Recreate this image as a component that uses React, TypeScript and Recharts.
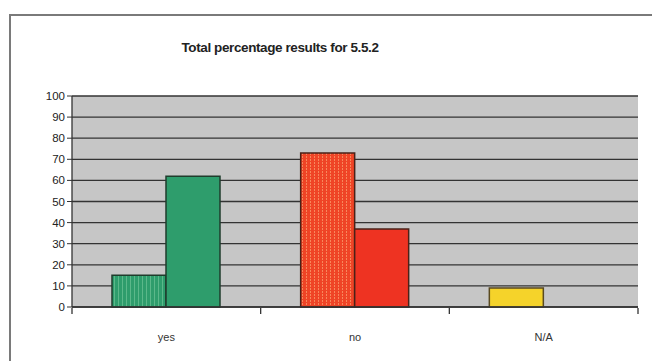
import { BarChart, Bar, XAxis, YAxis, CartesianGrid, Cell } from "recharts";

// answers and their percentages, two bars per answer
const categories = ["yes", "no", "N/A"];
const firstSeries = [15, 73, 9];
const secondSeries: (number | null)[] = [62, 37, null];
const yTicks = [0, 10, 20, 30, 40, 50, 60, 70, 80, 90, 100];

const solidFill = ["#2e9d6c", "#ee3322", "#f5d32a"];
const patternFill = ["url(#greenDots)", "url(#redDots)", "#f5d32a"];
const edgeStroke = ["#1f3d2c", "#4a2218", "#5a4a20"];

const data = categories.map((name, i) => ({
  name,
  first: firstSeries[i],
  second: secondSeries[i],
}));

const font = "Arial, 'Liberation Sans', sans-serif";

// category label plus tick marks on the band edges, Excel style
function CategoryTick(props: any) {
  const { x, y, payload, index } = props;
  const half = payload.offset ?? 0;
  const last = index === categories.length - 1;
  return (
    <g>
      <line x1={x - half} x2={x - half} y1={y - 1} y2={y + 5} stroke="#333" strokeWidth={1.3} />
      {last && <line x1={x + half} x2={x + half} y1={y - 1} y2={y + 5} stroke="#333" strokeWidth={1.3} />}
      <text x={x} y={y + 32} textAnchor="middle" fontSize={11} fill="#333" fontFamily={font}>
        {payload.value}
      </text>
    </g>
  );
}

export default function App() {
  return (
    <div style={{ position: "absolute", left: 0, top: 0, width: 652, height: 361, background: "#fff", fontFamily: font }}>
      <div
        style={{
          position: "absolute",
          left: 9,
          top: 14,
          width: 700,
          height: 400,
          border: "2.5px solid #7a7a7a",
          boxSizing: "border-box",
        }}
      />
      <div
        style={{
          position: "absolute",
          left: 80,
          width: 400,
          top: 40,
          textAlign: "center",
          fontWeight: "bold",
          fontSize: 13.5,
          color: "#222",
          letterSpacing: -0.4,
        }}
      >
        Total percentage results for 5.5.2
      </div>
      <div style={{ position: "absolute", left: 0, top: 0 }}>
        <BarChart
          width={652}
          height={361}
          data={data}
          margin={{ top: 96, right: 14, bottom: 24, left: 0 }}
          barGap={0}
          barSize={54}
        >
          <defs>
            <pattern id="greenDots" width="4" height="3" patternUnits="userSpaceOnUse">
              <rect width="4" height="3" fill="#2e9d6c" />
              <rect x="2" width="1" height="3" fill="#5bb88a" />
            </pattern>
            <pattern id="redDots" width="4" height="3" patternUnits="userSpaceOnUse">
              <rect width="4" height="3" fill="#ef4426" />
              <rect x="2" width="1" height="2" fill="#f7875c" />
            </pattern>
          </defs>
          <CartesianGrid vertical={false} fill="#c6c6c6" stroke="#333" strokeWidth={1.3} />
          <XAxis
            dataKey="name"
            height={30}
            tickLine={false}
            tickSize={0}
            axisLine={{ stroke: "#333", strokeWidth: 1.3 }}
            tick={<CategoryTick />}
          />
          <YAxis
            domain={[0, 100]}
            ticks={yTicks}
            width={72}
            interval={0}
            tickSize={5}
            axisLine={{ stroke: "#333", strokeWidth: 1.3 }}
            tickLine={{ stroke: "#333" }}
            tick={{ fontSize: 11.5, fill: "#222", fontFamily: font }}
          />
          <Bar dataKey="first" isAnimationActive={false} strokeWidth={1.5}>
            {data.map((d, i) => (
              <Cell key={d.name} fill={patternFill[i]} stroke={edgeStroke[i]} />
            ))}
          </Bar>
          <Bar dataKey="second" isAnimationActive={false} strokeWidth={1.5}>
            {data.map((d, i) => (
              <Cell key={d.name} fill={solidFill[i]} stroke={edgeStroke[i]} />
            ))}
          </Bar>
        </BarChart>
      </div>
    </div>
  );
}
